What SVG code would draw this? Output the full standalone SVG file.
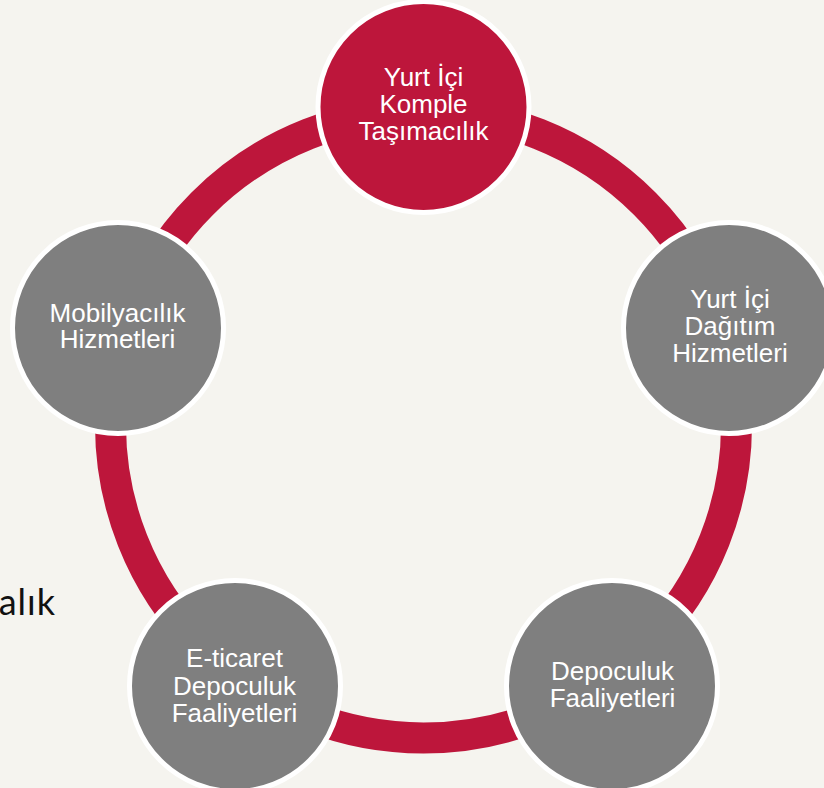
<svg xmlns="http://www.w3.org/2000/svg" width="824" height="788" viewBox="0 0 824 788">
  <style>
    .bg { fill: #f5f4ef; }
    .ring { fill: none; stroke: #bd163b; stroke-width: 31; }
    .node { stroke: #ffffff; stroke-width: 5; }
    .red { fill: #bd163b; }
    .gray { fill: #7f7f7f; }
    .lbl { font-family: "Liberation Sans", Arial, sans-serif; font-size: 26px; fill: #ffffff; text-anchor: middle; }
    .side { font-family: "Lato", "Liberation Sans", sans-serif; font-size: 36px; fill: #111111; text-anchor: end; letter-spacing: 1px; }
  </style>
  <rect class="bg" x="0" y="0" width="824" height="788"/>
  <text class="side" x="56" y="615">alık</text>
  <g id="connectors">
    <circle class="ring" cx="423.5" cy="425" r="313"/>
  </g>
  <g id="node-komple">
    <circle class="node red" cx="423.5" cy="107" r="105.5"/>
    <text class="lbl" x="423.5" y="86">Yurt İçi</text>
    <text class="lbl" x="423.5" y="113">Komple</text>
    <text class="lbl" x="423.5" y="140">Taşımacılık</text>
  </g>
  <g id="node-dagitim">
    <circle class="node gray" cx="729" cy="328" r="105.5"/>
    <text class="lbl" x="730" y="308">Yurt İçi</text>
    <text class="lbl" x="730" y="335">Dağıtım</text>
    <text class="lbl" x="730" y="362">Hizmetleri</text>
  </g>
  <g id="node-depoculuk">
    <circle class="node gray" cx="612" cy="686" r="105.5"/>
    <text class="lbl" x="612.5" y="680">Depoculuk</text>
    <text class="lbl" x="612.5" y="707">Faaliyetleri</text>
  </g>
  <g id="node-eticaret">
    <circle class="node gray" cx="235" cy="686" r="105.5"/>
    <text class="lbl" x="234.5" y="667">E-ticaret</text>
    <text class="lbl" x="234.5" y="695">Depoculuk</text>
    <text class="lbl" x="234.5" y="722">Faaliyetleri</text>
  </g>
  <g id="node-mobilya">
    <circle class="node gray" cx="118" cy="328" r="105.5"/>
    <text class="lbl" x="117.5" y="322">Mobilyacılık</text>
    <text class="lbl" x="117.5" y="348">Hizmetleri</text>
  </g>
</svg>
